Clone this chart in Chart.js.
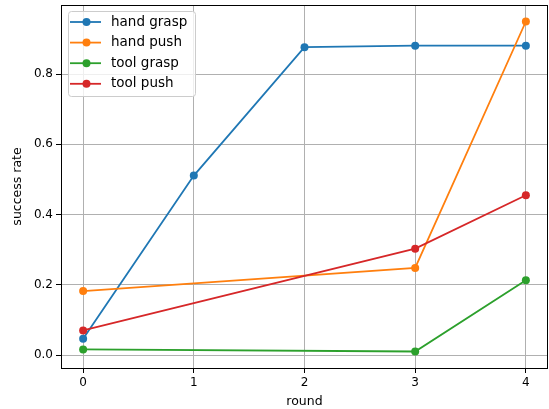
<!DOCTYPE html>
<html>
<head>
<meta charset="utf-8">
<script src="https://cdn.jsdelivr.net/npm/chart.js@4.4.1/dist/chart.umd.min.js"></script>
<style>
  html, body { margin: 0; padding: 0; background: #fff; }
</style>
</head>
<body>
<canvas id="grafico" width="549" height="409"></canvas>
<script>
// datos
var rondas = [0, 1, 2, 3, 4];
var rondasParciales = [0, 3, 4];
var handGrasp = [0.046, 0.511, 0.877, 0.881, 0.881];
var handPush = [0.182, 0.248, 0.950];
var toolGrasp = [0.016, 0.010, 0.213];
var toolPush = [0.070, 0.303, 0.455];
var ticksY = [0.0, 0.2, 0.4, 0.6, 0.8];

var colores = ['#1f77b4', '#ff7f0e', '#2ca02c', '#d62728'];
var fuente = "'DejaVu Sans', sans-serif";

function puntos(xs, ys) {
    return ys.map((v, i) => ({ x: xs[i], y: v }));
}

function serie(nombre, xs, ys, color, orden) {
    return {
        label: nombre,
        data: puntos(xs, ys),
        borderColor: color,
        backgroundColor: color,
        borderWidth: 1.8,
        pointRadius: 4,
        pointHoverRadius: 4,
        pointBorderWidth: 0,
        tension: 0,
        fill: false,
        order: orden
    };
}

// marco y leyenda al estilo matplotlib
var marco = {
    id: 'marco',
    afterDraw: function (chart) {
        var a = chart.chartArea;
        var ctx = chart.ctx;
        ctx.save();
        ctx.strokeStyle = '#000';
        ctx.lineWidth = 1;
        ctx.strokeRect(Math.round(a.left) + 0.5, Math.round(a.top) + 0.5,
            Math.round(a.right - a.left) - 1, Math.round(a.bottom - a.top));

        // leyenda
        var x0 = a.left + 7, y0 = a.top + 6, w = 127, h = 85;
        ctx.fillStyle = 'rgba(255,255,255,0.8)';
        ctx.strokeStyle = '#cccccc';
        ctx.beginPath();
        ctx.roundRect(x0 + 0.5, y0 + 0.5, w, h, 3);
        ctx.fill();
        ctx.stroke();
        ctx.font = '13.5px ' + fuente;
        ctx.textBaseline = 'middle';
        chart.data.datasets.forEach(function (ds, i) {
            var yy = y0 + 11 + i * 20.6;
            ctx.strokeStyle = ds.borderColor;
            ctx.lineWidth = 1.8;
            ctx.beginPath();
            ctx.moveTo(x0 + 2, yy);
            ctx.lineTo(x0 + 33, yy);
            ctx.stroke();
            ctx.fillStyle = ds.borderColor;
            ctx.beginPath();
            ctx.arc(x0 + 18.5, yy, 4, 0, Math.PI * 2);
            ctx.fill();
            ctx.fillStyle = '#000';
            ctx.fillText(ds.label, x0 + 43, yy);
        });
        ctx.restore();
    }
};

var ctx = document.getElementById('grafico').getContext('2d');
new Chart(ctx, {
    type: 'line',
    data: {
        datasets: [
            serie('hand grasp', rondas, handGrasp, colores[0], 4),
            serie('hand push', rondasParciales, handPush, colores[1], 3),
            serie('tool grasp', rondasParciales, toolGrasp, colores[2], 2),
            serie('tool push', rondasParciales, toolPush, colores[3], 1)
        ]
    },
    options: {
        responsive: false,
        animation: false,
        layout: { autoPadding: false, padding: { top: 5, right: 1, left: 0, bottom: 0 } },
        plugins: {
            legend: { display: false },
            tooltip: { enabled: false }
        },
        scales: {
            x: {
                type: 'linear',
                min: -0.2,
                max: 4.2,
                afterBuildTicks: function (scale) {
                    scale.ticks = rondas.map(v => ({ value: v }));
                },
                afterFit: function (scale) {
                    scale.height = 41;
                    scale.paddingLeft = 0;
                    scale.paddingRight = 0;
                },
                border: { display: false },
                grid: { color: '#b0b0b0', lineWidth: 1, tickColor: '#000', tickLength: 5 },
                ticks: {
                    color: '#000', padding: 3,
                    font: { family: fuente, size: 12 },
                    callback: v => String(v)
                },
                title: {
                    display: true, text: 'round', color: '#000',
                    font: { family: fuente, size: 12.5 },
                    padding: { top: 2, bottom: 0 }
                }
            },
            y: {
                type: 'linear',
                min: -0.037,
                max: 0.997,
                afterBuildTicks: function (scale) {
                    scale.ticks = ticksY.map(v => ({ value: v }));
                },
                afterFit: function (scale) {
                    scale.width = 61;
                    scale.paddingTop = 0;
                    scale.paddingBottom = 0;
                },
                border: { display: false },
                grid: { color: '#b0b0b0', lineWidth: 1, tickColor: '#000', tickLength: 5 },
                ticks: {
                    color: '#000', padding: 3,
                    font: { family: fuente, size: 12 },
                    callback: v => v.toFixed(1)
                },
                title: {
                    display: true, text: 'success rate', color: '#000',
                    font: { family: fuente, size: 12.5 },
                    padding: { top: 10, bottom: 4 }
                }
            }
        }
    },
    plugins: [marco]
});
</script>
</body>
</html>
